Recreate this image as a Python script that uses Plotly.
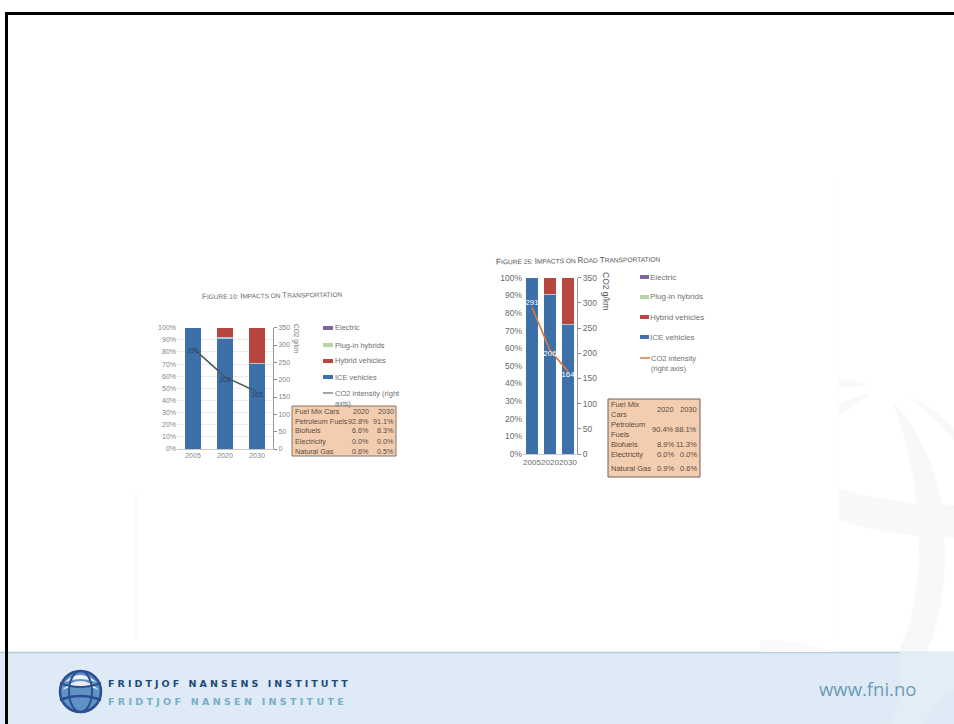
import plotly.graph_objects as go

W, H = 954, 724

# ---------- data ----------
years = ["2005", "2020", "2030"]
ice_a = [100, 91.5, 70.5]
plugin_a = [0, 0.5, 0.5]
hybrid_a = [0, 8, 29]
electric_a = [0, 0, 0]
co2_a = [291, 208, 165]
ice_b = [100, 90.5, 73.5]
plugin_b = [0, 0.5, 0.5]
hybrid_b = [0, 9, 26]
electric_b = [0, 0, 0]
co2_b = [291, 206, 164]

pct_ticks = [0, 10, 20, 30, 40, 50, 60, 70, 80, 90, 100]
co2_ticks = [0, 50, 100, 150, 200, 250, 300, 350]

table_a_labels = ["Fuel Mix Cars", "Petroleum Fuels", "Biofuels", "Electricity", "Natural Gas"]
table_a_2020 = ["2020", "92.8%", "6.6%", "0.0%", "0.6%"]
table_a_2030 = ["2030", "91.1%", "8.3%", "0.0%", "0.5%"]
table_b_labels = ["Fuel Mix<br>Cars", "Petroleum<br>Fuels", "Biofuels", "Electricity", "Natural Gas"]
table_b_2020 = ["2020", "90.4%", "8.9%", "0.0%", "0.9%"]
table_b_2030 = ["2030", "88.1%", "11.3%", "0.0%", "0.6%"]

legend_a = ["Electric", "Plug-in hybrids", "Hybrid vehicles", "ICE vehicles"]
legend_b = ["Electric", "Plug-in hybrids", "Hybrid vehicles", "ICE vehicles"]

BLUE, RED, GREEN, PURPLE = "#3d70a9", "#b8453f", "#b9d1a4", "#8064a2"
SEAM = "#a9cbd6"
TXT = "#5c5c5c"


def X(p):
    return p / W


def Y(p):
    return 1 - p / H


shapes, ann = [], []


def rect(x0, y0, x1, y1, fill, line=None, lw=0, layer="below"):
    shapes.append(dict(type="rect", xref="paper", yref="paper", x0=X(x0), x1=X(x1), y0=Y(y0), y1=Y(y1),
                       fillcolor=fill, line=dict(color=line or fill, width=lw), layer=layer))


def seg(x0, y0, x1, y1, color, lw=1, layer="above"):
    shapes.append(dict(type="line", xref="paper", yref="paper", x0=X(x0), x1=X(x1), y0=Y(y0), y1=Y(y1),
                       line=dict(color=color, width=lw), layer=layer))


def path(points, fill=None, line=None, lw=0, layer="below"):
    d = ""
    for cmd, *co in points:
        d += cmd + " " + " ".join(f"{X(co[i]):.5f},{Y(co[i+1]):.5f}" for i in range(0, len(co), 2)) + " "
    shapes.append(dict(type="path", xref="paper", yref="paper", path=d.strip(),
                       fillcolor=fill or "rgba(0,0,0,0)", line=dict(color=line or "rgba(0,0,0,0)", width=lw), layer=layer))


def ellipse(x0, y0, x1, y1, fill=None, line=None, lw=0, layer="above"):
    shapes.append(dict(type="circle", xref="paper", yref="paper", x0=X(x0), x1=X(x1), y0=Y(y0), y1=Y(y1),
                       fillcolor=fill or "rgba(0,0,0,0)", line=dict(color=line or "rgba(0,0,0,0)", width=lw), layer=layer))


def text(x, y, s, size=8, color=TXT, anchor="left", font="Liberation Sans", angle=0, bold=False):
    ann.append(dict(xref="paper", yref="paper", x=X(x), y=Y(y), text=f"<b>{s}</b>" if bold else s, showarrow=False,
                    xanchor=anchor, yanchor="middle", textangle=angle, align="left",
                    font=dict(size=size, color=color, family=font), borderpad=0, borderwidth=0))


# ---------- background ----------
WM = "#f8f8fb"
path([("M", 839, 488), ("Q", 880, 503, 954, 505), ("L", 954, 538), ("Q", 880, 535, 839, 520), ("Z",)], fill=WM)
path([("M", 892, 402), ("Q", 930, 440, 942, 505), ("Q", 952, 600, 926, 652), ("L", 898, 652),
      ("Q", 925, 600, 917, 505), ("Q", 910, 445, 892, 402), ("Z",)], fill=WM)
path([("M", 910, 397), ("Q", 935, 410, 954, 428), ("L", 954, 440), ("Q", 935, 418, 910, 397), ("Z",)], fill=WM)
path([("M", 839, 379), ("Q", 858, 380, 868, 385), ("Q", 852, 388, 839, 387), ("Z",)], fill=WM)
path([("M", 839, 405), ("Q", 852, 397, 868, 393), ("L", 868, 397), ("Q", 852, 404, 839, 416), ("Z",)], fill=WM)
seg(839, 180, 839, 640, "#fcfcfc", 1, "below")
seg(136, 495, 136, 640, "#f9f9f9", 2, "below")

rect(0, 652, W, H, "#deeaf5")
seg(0, 652.5, W, 652.5, "#b5cfe0", 1.5, "below")
path([("M", 900, 652), ("L", 954, 652), ("L", 954, 690), ("Q", 935, 700, 925, 724), ("L", 890, 724), ("Q", 905, 690, 900, 652), ("Z",)],
     fill="#e2edf6")
path([("M", 760, 640), ("Q", 800, 640, 835, 652), ("L", 760, 652), ("Z",)], fill="#fafafc")

rect(5, 12, W, 15, "#000000")
rect(5, 12, 8, H, "#000000")

# ---------- chart A decorations ----------
ann.append(dict(xref="paper", yref="paper", x=X(272), y=Y(295.5), showarrow=False, xanchor="center", yanchor="middle", textangle=-1,
                text="<span style='font-size:8px'>F</span>IGURE 10: <span style='font-size:8px'>I</span>MPACTS ON <span style='font-size:8px'>T</span>RANSPORTATION",
                font=dict(size=6.5, color="#6a6a6a", family="Liberation Sans")))
text(296, 338, "CO2 g/km", 6.5, "#777777", "center", angle=90)

for lab, col, yy in zip(legend_a, [PURPLE, GREEN, RED, BLUE], [328, 345, 361, 377]):
    rect(323, yy - 2, 333, yy + 2, col)
    text(335, yy, lab, 7.5, "#707070")
seg(323, 393, 333, 393, "#5f6b70", 1.2)
text(335, 398, "CO2 intensity (right<br>axis)", 7.5, "#707070")

rect(292, 406, 396, 456, "#f3cdb0", "#8a7565", 1)
for lab, c1, c2, yy in zip(table_a_labels, table_a_2020, table_a_2030, [411, 421, 431, 441, 451]):
    text(295, yy, lab, 7.2, "#5a4c42")
    text(369, yy, c1, 7.2, "#5a4c42", "right")
    text(394, yy, c2, 7.2, "#5a4c42", "right")

# ---------- chart B decorations ----------
ann.append(dict(xref="paper", yref="paper", x=X(494), y=Y(260), showarrow=False, xanchor="left", yanchor="middle", textangle=-1,
                text="<span style='font-size:8.2px'>F</span>IGURE 25: <span style='font-size:8.2px'>I</span>MPACTS ON <span style='font-size:8.2px'>R</span>OAD <span style='font-size:8.2px'>T</span>RANSPORTATION",
                font=dict(size=6.6, color="#555555", family="Liberation Sans")))
text(606, 291, "CO2 g/km", 8.5, "#555555", "center", angle=90)

for lab, col, yy in zip(legend_b, [PURPLE, GREEN, RED, BLUE], [277, 297, 317, 337]):
    rect(640, yy - 2, 649, yy + 2, col)
    text(650, yy, lab, 8, "#707070")
seg(640, 358, 650, 358, "#d9793f", 1.5)
text(651, 363, "CO2 intensity<br>(right axis)", 7.5, "#707070")

rect(608, 399, 700, 477, "#f3cdb0", "#6f6056", 1)
for lab, c1, c2, yy in zip(table_b_labels, table_b_2020, table_b_2030, [409, 429, 444, 454, 468]):
    text(611, yy, lab, 7.5, "#5a4c42")
    text(674, yy, c1, 7.5, "#5a4c42", "right")
    text(697, yy, c2, 7.5, "#5a4c42", "right")

# ---------- footer logo and text ----------
ellipse(60, 671, 101, 712, "#5f93c3", "#2b4f91", 2.5)
path([("M", 65, 682), ("Q", 80, 668, 96, 682), ("Q", 80, 676, 65, 682), ("Z",)], fill="#f4f4f6", layer="above")
path([("M", 62, 690), ("Q", 80, 672, 99, 690), ("Q", 80, 682, 62, 690), ("Z",)], fill="#e9edf2", layer="above")
ellipse(69, 671, 92, 712, None, "#2b4f91", 2)
path([("M", 60, 683), ("Q", 80, 691, 101, 683)], line="#2b4f91", lw=2, layer="above")
path([("M", 60, 700), ("Q", 80, 692, 101, 700)], line="#2b4f91", lw=2.5, layer="above")
text(108, 683, "FRIDTJOF NANSENS INSTITUTT", 9.5, "#1f4a78", font="DejaVu Sans", bold=True)
text(108, 701, "FRIDTJOF NANSEN INSTITUTE", 9.5, "#78aec8", font="DejaVu Sans", bold=True)
text(819, 688, "www.fni.no", 18.5, "#6b9cba", font="Open Sans")

# ---------- traces ----------
fig = go.Figure()


def add_chart(xa, ya, ya2, ice, plug, hyb, ele, co2, bar_w, linecol, labelcol, labelsize, positions):
    for name, vals, col in [("ICE vehicles", ice, BLUE), ("Plug-in hybrids", plug, SEAM),
                            ("Hybrid vehicles", hyb, RED), ("Electric", ele, PURPLE)]:
        fig.add_trace(go.Bar(x=years, y=vals, name=name, width=bar_w, marker=dict(color=col, line=dict(width=0)),
                             xaxis=xa, yaxis=ya, showlegend=False))
    fig.add_trace(go.Scatter(x=years, y=co2, mode="lines", line=dict(color=linecol, width=1.6),
                             xaxis=xa, yaxis=ya2, showlegend=False, name="CO2 intensity"))
    fig.add_trace(go.Scatter(x=years, y=co2, mode="text", text=[str(v) for v in co2], textposition=positions,
                             textfont=dict(color=labelcol, size=labelsize, family="Liberation Sans"),
                             xaxis=xa, yaxis=ya2, showlegend=False))


add_chart("x", "y", "y2", ice_a, plugin_a, hybrid_a, electric_a, co2_a, 0.5, "#4d5a5f", "#26466e", 7,
          "bottom center")
add_chart("x2", "y3", "y4", ice_b, plugin_b, hybrid_b, electric_b, co2_b, 0.7, "#d9793f", "#ffffff", 8,
          ["top center", "bottom center", "bottom center"])


def left_axis(domain, anchor, size, grid, col):
    return dict(domain=domain, anchor=anchor, range=[0, 100], tickvals=pct_ticks, ticktext=[f"{v}%" for v in pct_ticks],
                tickfont=dict(size=size, color=col, family="Liberation Sans"), showgrid=grid, gridcolor="#ececec",
                showline=False, ticks="", zeroline=False, fixedrange=True, automargin=False)


def right_axis(domain, anchor, over, size, col):
    return dict(domain=domain, anchor=anchor, overlaying=over, side="right", range=[0, 350], tickvals=co2_ticks,
                tickfont=dict(size=size, color=col, family="Liberation Sans"), showgrid=False, showline=True,
                linecolor="#9a9a9a", linewidth=1, ticks="outside", ticklen=3, tickcolor="#8a8a8a", zeroline=False,
                fixedrange=True, automargin=False)


def x_axis(domain, anchor, size, col):
    return dict(domain=domain, anchor=anchor, type="category", categoryorder="array", categoryarray=years, tickangle=0,
                tickfont=dict(size=size, color=col, family="Liberation Sans"), showgrid=False, showline=True,
                linecolor="#c8c8c8", linewidth=1, ticks="", fixedrange=True, automargin=False)


dom_xa = [X(177), X(273)]
dom_ya = [Y(449), Y(327.7)]
dom_xb = [X(523), X(577)]
dom_yb = [Y(454), Y(277.7)]

fig.update_layout(
    width=W, height=H, margin=dict(l=0, r=0, t=0, b=0, pad=0), autosize=False,
    paper_bgcolor="#ffffff", plot_bgcolor="rgba(0,0,0,0)",
    barmode="stack", showlegend=False,
    shapes=shapes, annotations=ann,
    xaxis=x_axis(dom_xa, "y", 7, "#858585"),
    yaxis=left_axis(dom_ya, "x", 7, True, "#858585"),
    yaxis2=right_axis(dom_ya, "x", "y", 7, "#858585"),
    xaxis2=x_axis(dom_xb, "y3", 8, "#6a6a6a"),
    yaxis3=left_axis(dom_yb, "x2", 8.5, False, "#6a6a6a"),
    yaxis4=right_axis(dom_yb, "x2", "y3", 8.5, "#6a6a6a"),
)

POST = """
document.documentElement.style.margin='0';
document.body.style.margin='0';
document.body.style.overflow='hidden';
document.querySelectorAll('.annotation-text').forEach(function(t){
  if(t.textContent==='FRIDTJOF NANSENS INSTITUTT'){t.style.letterSpacing='3.05px';}
  if(t.textContent==='FRIDTJOF NANSEN INSTITUTE'){t.style.letterSpacing='3.3px';}
});
"""
fig.write_html("out.html", config=dict(displayModeBar=False), post_script=POST)
